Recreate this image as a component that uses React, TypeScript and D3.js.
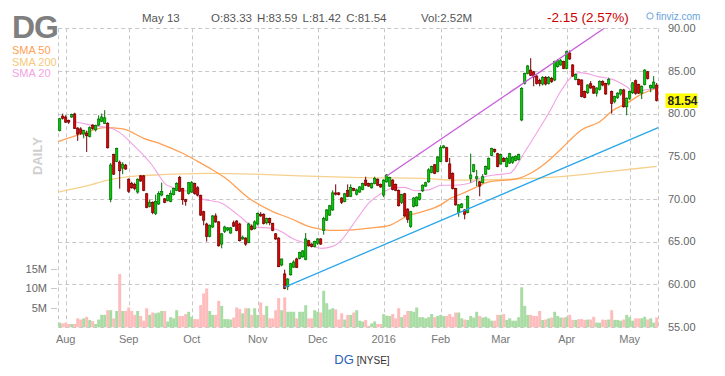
import React from 'react';
import * as d3 from 'd3';

// [open, high, low, close, volume in millions]
type Bar = [number, number, number, number, number];

const jul: Bar[] = [
  [78.0, 79.5, 77.9, 79.4, 1.2], [79.7, 80.0, 79.3, 79.45, 1.0],
];
const aug: Bar[] = [
  [79.6, 79.8, 78.9, 79.0, 1.2], [79.2, 79.3, 78.8, 79.0, 0.85], [79.6, 80.0, 79.5, 79.9, 0.85],
  [79.95, 80.1, 78.2, 78.27, 0.85], [78.3, 78.4, 76.8, 77.6, 2.3], [78.2, 78.4, 77.5, 77.7, 2.0],
  [77.6, 78.1, 77.1, 78.0, 2.3], [77.7, 78.0, 75.5, 77.4, 2.7], [77.3, 78.5, 77.2, 78.35, 1.9],
  [78.65, 78.75, 78.1, 78.27, 1.6], [78.1, 78.7, 77.9, 78.6, 0.85], [78.65, 79.8, 78.55, 79.36, 2.0],
  [79.1, 80.0, 79.0, 79.6, 3.2], [78.85, 80.4, 78.8, 79.5, 3.2], [78.85, 79.0, 75.9, 76.0, 4.4],
  [69.95, 74.2, 69.6, 73.97, 4.4], [75.2, 75.3, 72.8, 72.9, 2.3], [74.4, 76.0, 74.3, 75.9, 4.2],
  [74.3, 74.5, 71.2, 73.3, 13.7], [73.6, 74.3, 72.9, 74.05, 4.2], [73.95, 74.1, 73.4, 73.5, 4.2],
];
const sep: Bar[] = [
  [72.3, 72.4, 70.7, 70.9, 5.1], [71.8, 72.0, 71.2, 71.3, 4.2], [71.7, 71.9, 71.0, 71.2, 3.2],
  [70.8, 72.4, 70.6, 72.3, 4.2], [72.7, 72.8, 72.0, 72.1, 2.9], [72.7, 72.8, 70.9, 71.0, 1.7],
  [70.6, 70.7, 68.9, 69.0, 4.9], [69.1, 69.9, 69.0, 69.6, 3.2], [69.6, 69.7, 68.2, 68.4, 3.8],
  [68.3, 70.5, 68.1, 69.7, 3.6], [69.4, 70.9, 69.3, 70.65, 3.8], [70.45, 71.9, 70.3, 70.85, 4.2],
  [70.0, 70.1, 69.5, 69.6, 4.2], [69.8, 70.5, 69.7, 70.4, 1.5], [69.7, 71.0, 69.6, 70.65, 2.6],
  [70.5, 71.3, 70.4, 71.2, 2.3], [71.0, 71.95, 70.9, 71.8, 4.4], [72.5, 72.7, 70.8, 70.9, 2.9],
  [71.2, 71.3, 69.3, 69.9, 2.9], [69.9, 70.0, 69.2, 69.7, 3.4], [70.65, 72.0, 70.5, 71.9, 4.0],
];
const oct: Bar[] = [
  [70.8, 72.1, 70.7, 71.9, 2.7], [71.8, 71.9, 70.5, 70.65, 2.1], [71.3, 71.5, 70.3, 70.45, 2.1],
  [70.4, 70.5, 68.0, 68.1, 5.7], [68.5, 68.6, 66.9, 67.5, 8.7], [67.05, 67.2, 65.0, 65.6, 10.0],
  [65.6, 67.0, 65.5, 66.9, 4.2], [66.7, 68.1, 66.6, 68.0, 3.2], [68.0, 68.3, 67.2, 67.3, 3.2],
  [67.3, 67.4, 64.4, 64.5, 6.8], [64.7, 66.0, 64.2, 65.9, 5.5], [66.2, 66.85, 66.0, 66.7, 2.1],
  [66.35, 66.7, 66.2, 66.6, 2.1], [66.0, 66.7, 65.9, 66.6, 2.0], [67.2, 67.45, 66.7, 66.8, 2.5],
  [67.4, 67.5, 66.2, 66.3, 5.1], [67.05, 67.2, 65.0, 65.1, 4.7], [65.3, 65.7, 65.2, 65.5, 3.6],
  [65.4, 65.5, 64.5, 64.7, 4.9], [64.9, 67.2, 64.8, 67.05, 4.9], [66.8, 67.0, 66.3, 66.4, 3.2],
  [66.5, 67.5, 66.4, 67.3, 4.9],
];
const nov: Bar[] = [
  [67.05, 68.4, 66.9, 68.3, 3.2], [68.2, 68.45, 67.9, 68.0, 6.4], [68.2, 68.3, 67.0, 67.1, 3.2],
  [67.2, 67.8, 67.0, 67.7, 5.5], [67.7, 67.8, 66.9, 67.2, 2.3], [67.1, 67.2, 66.2, 66.3, 2.3],
  [65.9, 66.0, 65.2, 65.3, 4.4], [65.4, 65.5, 62.0, 62.05, 7.5], [62.25, 63.0, 62.1, 62.95, 4.4],
  [61.2, 61.7, 59.4, 59.5, 7.7], [59.7, 60.7, 59.3, 60.6, 4.0], [61.1, 62.5, 61.0, 62.4, 4.0],
  [62.0, 62.8, 61.9, 62.6, 4.0], [62.95, 63.1, 61.9, 61.95, 2.3], [63.0, 63.8, 62.9, 63.7, 4.0],
  [63.2, 64.0, 63.1, 63.9, 4.0], [62.9, 66.0, 62.8, 65.3, 5.7], [65.1, 65.2, 64.4, 64.5, 2.3],
  [64.7, 64.8, 64.3, 64.4, 2.3], [64.4, 65.1, 64.3, 65.0, 4.4],
];
const dec: Bar[] = [
  [64.8, 65.4, 64.6, 65.3, 4.0], [65.3, 65.4, 64.6, 64.7, 3.8], [66.3, 67.9, 65.8, 67.7, 9.4],
  [67.5, 68.8, 67.4, 68.7, 6.2], [68.1, 69.3, 68.0, 69.2, 4.6], [68.7, 71.0, 68.6, 70.7, 4.9],
  [70.7, 71.7, 70.4, 70.55, 4.6], [70.7, 70.8, 70.4, 70.5, 2.0], [70.1, 70.2, 69.4, 69.6, 3.6],
  [69.7, 70.7, 69.6, 70.6, 2.0], [71.0, 71.7, 70.2, 70.3, 3.2], [70.3, 71.7, 70.2, 71.35, 3.2],
  [71.2, 71.3, 70.9, 71.0, 3.8], [70.55, 71.2, 70.4, 71.05, 4.4], [70.8, 71.5, 70.7, 71.4, 1.7],
  [71.1, 71.9, 71.0, 71.8, 1.5], [72.2, 72.6, 71.5, 71.6, 1.9], [71.8, 71.9, 71.4, 71.5, 0.4],
  [71.3, 71.9, 71.2, 71.8, 1.0], [71.8, 72.6, 71.7, 72.4, 1.5], [72.3, 72.4, 71.5, 71.6, 0.85],
  [71.7, 71.8, 71.3, 71.4, 0.85],
];
const jan: Bar[] = [
  [70.45, 72.3, 70.2, 72.2, 3.4], [72.0, 72.9, 71.9, 72.8, 3.0], [71.5, 72.6, 71.4, 72.5, 2.9],
  [72.2, 72.3, 71.0, 71.1, 3.4], [71.7, 71.8, 70.9, 71.0, 2.3], [71.0, 71.1, 69.1, 69.2, 4.9],
  [69.6, 70.6, 69.4, 70.5, 2.6], [70.6, 70.7, 67.9, 68.0, 3.2], [68.8, 68.9, 67.2, 67.6, 4.2],
  [66.75, 68.6, 66.6, 68.5, 4.2], [69.1, 70.2, 69.0, 70.1, 4.0], [69.2, 70.3, 69.1, 70.2, 5.1],
  [69.95, 70.7, 69.8, 70.65, 2.6], [70.95, 71.7, 70.8, 71.6, 2.6], [71.5, 72.0, 71.4, 71.9, 2.3],
  [72.0, 73.6, 71.9, 73.4, 2.6], [73.1, 73.9, 73.0, 73.8, 3.4], [74.0, 74.1, 72.9, 73.0, 2.6],
  [73.2, 75.0, 73.1, 74.9, 2.9],
];
const feb: Bar[] = [
  [74.4, 76.3, 74.3, 76.0, 3.2], [76.0, 76.3, 75.9, 76.2, 2.9], [76.0, 76.1, 74.3, 74.4, 2.9],
  [74.1, 74.8, 72.3, 72.4, 3.4], [73.0, 73.1, 71.1, 71.2, 2.7], [71.2, 71.3, 69.2, 69.3, 3.8],
  [68.4, 69.4, 67.9, 69.3, 3.8], [69.0, 69.5, 68.9, 69.4, 2.3], [68.7, 68.8, 67.6, 68.2, 2.0],
  [68.4, 70.4, 68.3, 70.3, 1.9], [72.4, 75.3, 71.9, 72.8, 2.9], [73.2, 74.1, 73.1, 74.0, 2.5],
  [72.4, 73.4, 71.5, 72.6, 4.0], [72.0, 72.1, 70.3, 71.5, 2.9], [71.9, 72.9, 71.8, 72.6, 2.5],
  [72.9, 73.9, 72.8, 73.8, 2.7], [73.5, 74.85, 73.4, 74.75, 2.3], [75.1, 76.0, 75.0, 75.9, 1.7],
  [75.8, 75.9, 75.4, 75.55, 1.7], [75.3, 75.4, 73.7, 73.8, 3.2],
];
const mar: Bar[] = [
  [74.1, 75.3, 74.0, 75.2, 3.2], [74.75, 74.9, 74.3, 74.4, 3.4], [73.8, 74.9, 73.7, 74.75, 1.9],
  [74.2, 75.4, 74.1, 75.3, 2.3], [74.3, 75.0, 74.1, 74.9, 1.7], [74.5, 75.1, 74.4, 75.0, 1.7],
  [74.6, 75.3, 74.5, 75.2, 2.6], [79.25, 83.1, 79.1, 82.96, 10.3], [83.55, 84.8, 83.4, 84.72, 5.5],
  [84.72, 85.7, 84.6, 85.58, 3.2], [85.1, 86.5, 84.4, 84.5, 3.2], [84.9, 85.0, 83.2, 84.3, 2.9],
  [84.4, 84.5, 83.4, 83.55, 2.9], [83.9, 84.1, 83.2, 83.55, 4.2], [83.47, 84.4, 83.3, 84.25, 1.9],
  [84.25, 84.4, 83.3, 83.47, 2.0], [83.55, 84.4, 83.4, 84.25, 2.3], [84.1, 84.3, 83.6, 83.75, 2.5],
  [83.94, 86.2, 83.8, 86.09, 4.0], [85.5, 86.4, 85.4, 86.2, 2.9], [85.7, 86.4, 85.6, 86.2, 2.5],
  [86.1, 86.2, 85.2, 85.3, 2.5],
];
const apr: Bar[] = [
  [85.3, 87.4, 85.2, 87.26, 2.7], [87.1, 87.4, 86.3, 86.4, 3.2], [85.7, 85.8, 84.3, 84.4, 1.9],
  [84.0, 84.7, 83.9, 84.6, 1.9], [84.0, 84.1, 83.3, 83.4, 2.1], [83.94, 84.0, 81.9, 82.0, 2.1],
  [82.6, 82.7, 81.8, 81.9, 1.9], [82.45, 83.45, 82.3, 83.35, 2.0], [83.5, 83.8, 82.9, 83.0, 2.0],
  [83.2, 83.3, 82.3, 82.4, 2.7], [82.4, 83.1, 82.0, 83.0, 1.2], [82.85, 83.9, 82.7, 83.75, 1.2],
  [83.75, 83.9, 83.2, 83.35, 2.0], [83.55, 83.6, 82.2, 82.3, 1.9], [83.47, 84.2, 83.3, 84.0, 2.0],
  [82.6, 82.7, 80.0, 81.2, 4.4], [81.4, 82.1, 81.2, 82.0, 1.9], [81.9, 82.5, 81.7, 82.4, 1.9],
  [82.3, 82.9, 82.1, 82.8, 1.7], [82.77, 82.9, 80.7, 80.8, 2.0], [80.8, 81.9, 79.8, 81.8, 3.2],
];
const may: Bar[] = [
  [81.8, 82.7, 81.6, 82.6, 2.6], [82.45, 83.7, 82.3, 83.6, 1.7], [83.86, 84.0, 82.2, 82.38, 2.3],
  [83.4, 83.5, 82.3, 82.4, 2.3], [82.4, 83.3, 81.7, 83.2, 2.3], [83.4, 85.2, 83.3, 85.1, 2.7],
  [84.9, 85.0, 84.0, 84.1, 2.0], [83.0, 83.4, 82.5, 83.3, 2.3], [83.0, 84.4, 82.9, 83.69, 1.2],
  [83.33, 83.59, 81.42, 81.54, 2.52],
];

const monthBars: Bar[][] = [jul, aug, sep, oct, nov, dec, jan, feb, mar, apr, may];
const monthLabels = ['', 'Aug', 'Sep', 'Oct', 'Nov', 'Dec', '2016', 'Feb', 'Mar', 'Apr', 'May'];
const priceTicks = [55, 60, 65, 70, 75, 80, 85, 90];
const volumeTicks = [5, 10, 15];

// moving averages: [bar index, price]
const sma20: [number, number][] = [
  [5, 79.05], [13, 78.5], [17, 78.3], [21, 77.5], [24, 76.5], [27.3, 75.35], [30.7, 74.0], [33, 72.8],
  [35, 71.8], [37.3, 71.4], [40.7, 71.0], [44, 70.85], [47.3, 70.0], [50, 69.8], [54, 69.5], [59.5, 68.1],
  [65, 66.7], [70.7, 66.55], [74, 66.15], [77.3, 65.4], [81.8, 64.8], [87.3, 64.2], [90.7, 64.4],
  [94, 65.2], [97.3, 66.75], [100, 68.1], [103, 69.5], [107.3, 70.65], [110.7, 71.25], [115, 71.35],
  [118.4, 70.95], [123, 71.05], [127.3, 71.6], [131.8, 71.6], [136.2, 71.8], [140.7, 72.5], [145, 72.8],
  [150, 73.0], [155, 75.5], [160, 78.3], [163.4, 80.3], [166.8, 82.5], [171.2, 84.5], [173.4, 84.8],
  [180, 84.3], [183.4, 84.1], [189, 83.15], [191.2, 82.6], [195.7, 82.8], [199, 82.97],
];
const sma50: [number, number][] = [
  [-0.5, 76.7], [8, 77.7], [15, 78.35], [21, 78.2], [28, 77.1], [34, 76.4], [41, 75.35], [46, 74.4],
  [50, 73.6], [55, 72.5], [63, 70.1], [71, 68.5], [77, 67.7], [82, 66.9], [86, 66.5], [90, 66.3],
  [94, 66.3], [104, 66.6], [110, 66.9], [116, 68.0], [121, 68.5], [127, 69.3], [130, 70.0], [134, 70.6],
  [139, 71.4], [143, 72.0], [149, 72.2], [153, 72.4], [157, 73.0], [162, 74.2], [167, 75.8], [171, 77.2],
  [174, 78.1], [180, 79.05], [184.5, 80.4], [189, 81.2], [193.5, 82.2], [199, 82.97],
];
const sma200: [number, number][] = [
  [-0.5, 70.8], [10, 71.6], [16, 72.2], [26, 72.7], [32, 72.8], [38, 72.9], [50, 73.0], [65, 72.9],
  [80, 72.7], [100, 72.5], [121, 72.4], [132, 72.2], [150, 72.3], [167, 72.6], [183, 73.2], [199, 73.8],
];
const blueTrend: [number, number][] = [[75, 59.65], [199.5, 78.35]];
const purpleTrend: [number, number][] = [[109, 72.68], [181.5, 90]];

const ticker = 'DG';
const headerDate = 'May 13';
const headerOHLC = 'O:83.33 H:83.59 L:81.42 C:81.54';
const headerVol = 'Vol:2.52M';
const headerChange = '-2.15 (2.57%)';
const lastPrice = 81.54;

const FONT = 'Arial, "Liberation Sans", sans-serif';
const GRID = '#c8c8c8';

export default function App() {
  const bars = monthBars.flat();
  const starts: number[] = [];
  let acc = 0;
  monthBars.forEach((m) => { starts.push(acc); acc += m.length; });

  const x = d3.scaleLinear().domain([0, bars.length - 1]).range([59.7, 656.7]);
  const y = d3.scaleLinear().domain([55, 90]).range([326.8, 28.3]);
  const v = d3.scaleLinear().domain([0, 15]).range([327.3, 269]);
  const left = x(-0.5);
  const right = x(bars.length - 0.5);
  const top = y(90);
  const bottom = y(55);

  const line = d3.line<[number, number]>().x((d) => x(d[0])).y((d) => y(d[1])).curve(d3.curveMonotoneX);
  const straight = d3.line<[number, number]>().x((d) => x(d[0])).y((d) => y(d[1]));

  const up = (b: Bar) => b[3] >= b[0];

  return (
    <svg width={725} height={376} style={{ position: 'absolute', left: 0, top: 0, background: '#fff' }} fontFamily={FONT}>
      <defs>
        <clipPath id="plot"><rect x={left} y={top} width={right - left} height={bottom - top} /></clipPath>
      </defs>
      {/* grid */}
      {priceTicks.map((t) => (
        <line key={'h' + t} x1={left} x2={right} y1={Math.round(y(t)) + 0.5} y2={Math.round(y(t)) + 0.5} stroke={GRID} strokeDasharray="4,3" />
      ))}
      {[left, right].map((gx, k) => (
        <line key={'b' + k} x1={Math.round(gx) + 0.5} x2={Math.round(gx) + 0.5} y1={top} y2={bottom} stroke={GRID} strokeDasharray="4,3" />
      ))}
      {starts.slice(1).map((s, k) => (
        <line key={'v' + k} x1={Math.round(x(s)) + 0.5} x2={Math.round(x(s)) + 0.5} y1={top} y2={bottom} stroke={GRID} strokeDasharray="4,3" />
      ))}
      {/* volume */}
      {bars.map((b, i) => (
        <rect key={'vol' + i} x={x(i) - 1.5} y={v(b[4])} width={3} height={v(0) - v(b[4])} fill={up(b) ? '#a8dca4' : '#ffbcbc'} />
      ))}
      {volumeTicks.map((t) => (
        <g key={'vt' + t}>
          <text x={47} y={v(t)} dy="0.35em" textAnchor="end" fontSize={11} fill="#666">{t}M</text>
          <line x1={51} x2={57} y1={Math.round(v(t)) + 0.5} y2={Math.round(v(t)) + 0.5} stroke={GRID} />
        </g>
      ))}
      {/* moving averages */}
      <g clipPath="url(#plot)" fill="none">
        <path d={line(sma200) || ''} stroke="#f6d18e" strokeWidth={1.3} />
        <path d={line(sma50) || ''} stroke="#ffa055" strokeWidth={1.3} />
        <path d={line(sma20) || ''} stroke="#f2a2e4" strokeWidth={1.1} />
      </g>
      {/* candles */}
      {bars.map((b, i) => {
        const cx = x(i);
        const g = up(b);
        const yTop = y(Math.max(b[0], b[3]));
        const yBot = y(Math.min(b[0], b[3]));
        return (
          <g key={'c' + i}>
            <line x1={cx} x2={cx} y1={y(b[1])} y2={y(b[2])} stroke={g ? '#006a00' : '#6a0000'} strokeWidth={1} />
            <rect x={cx - 1.1} y={yTop} width={2.2} height={Math.max(1, yBot - yTop)}
              fill={g ? '#00cc00' : '#e00000'} stroke={g ? '#006a00' : '#6a0000'} strokeWidth={0.7} />
          </g>
        );
      })}
      {/* trend lines */}
      <g clipPath="url(#plot)" fill="none">
        <path d={straight(blueTrend) || ''} stroke="#2aa6ea" strokeWidth={1.3} />
        <path d={straight(purpleTrend) || ''} stroke="#c95ddc" strokeWidth={1.3} />
      </g>
      {/* price axis */}
      {priceTicks.map((t) => (
        <text key={'pt' + t} x={668} y={y(t)} dy="0.35em" fontSize={11} fill="#666">{t.toFixed(2)}</text>
      ))}
      <rect x={665.5} y={y(lastPrice) - 7} width={32} height={14.5} fill="#ffff00" />
      <text x={667.5} y={y(lastPrice)} dy="0.37em" fontSize={12} fontWeight="bold" fill="#222">{lastPrice.toFixed(2)}</text>
      {/* month axis */}
      {starts.slice(1).map((s, k) => (
        <text key={'m' + k} x={x(s)} y={343} textAnchor="middle" fontSize={11} fill="#777">{monthLabels[k + 1]}</text>
      ))}
      {/* header */}
      <text x={12} y={38} fontSize={32} fontWeight="bold" fill="#7f7f7f" letterSpacing={-1}>{ticker}</text>
      <text x={142} y={22} fontSize={11.5} fill="#555">{headerDate}</text>
      <text x={211} y={22} fontSize={11.5} fill="#555" wordSpacing={2}>{headerOHLC}</text>
      <text x={421} y={22} fontSize={11.5} fill="#555">{headerVol}</text>
      <text x={547} y={22} fontSize={13.5} fill="#cc0000">{headerChange}</text>
      <circle cx={650} cy={16} r={3.2} fill="none" stroke="#6aa3dc" strokeWidth={1} />
      <text x={656} y={20} fontSize={10} fill="#6aa3dc">finviz.com</text>
      {/* legend */}
      <text x={12} y={54} fontSize={11} fill="#ffa055">SMA 50</text>
      <text x={12} y={66} fontSize={11} fill="#f6c97a">SMA 200</text>
      <text x={12} y={77} fontSize={11} fill="#f2a2e4">SMA 20</text>
      <text transform="translate(42,156) rotate(-90)" textAnchor="middle" fontSize={13} fontWeight="bold" fill="#cfcfcf">DAILY</text>
      {/* footer */}
      <text x={362} y={364} textAnchor="middle">
        <tspan fontSize={13} fill="#2e62b8">{ticker}</tspan>
        <tspan fontSize={10} fill="#333" dx={3}>[NYSE]</tspan>
      </text>
    </svg>
  );
}
